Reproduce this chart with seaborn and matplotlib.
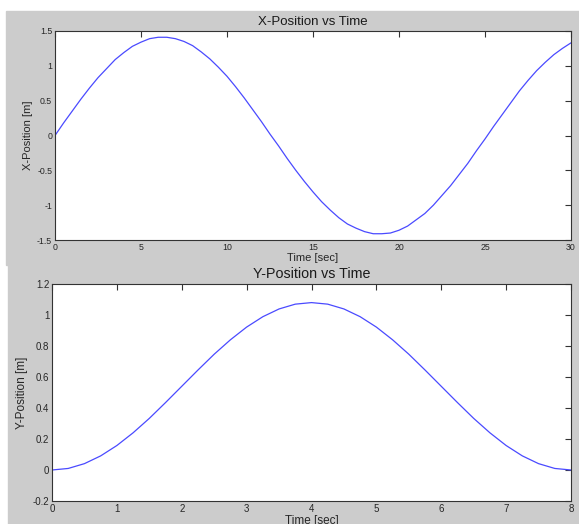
import seaborn as sns
import matplotlib.pyplot as plt
import matplotlib.patches as mpatches
import pandas as pd

t_x = [i * 0.5 for i in range(61)]
x_pos = [0.00, 0.18, 0.35, 0.52, 0.68, 0.83, 0.96, 1.09, 1.19, 1.28,
         1.34, 1.39, 1.41, 1.41, 1.39, 1.35, 1.29, 1.20, 1.10, 0.98,
         0.85, 0.70, 0.54, 0.37, 0.20, 0.02, -0.15, -0.33, -0.50, -0.66,
         -0.81, -0.95, -1.07, -1.18, -1.27, -1.33, -1.38, -1.41, -1.41, -1.40,
         -1.36, -1.30, -1.21, -1.12, -1.00, -0.86, -0.72, -0.56, -0.40, -0.22,
         -0.05, 0.13, 0.30, 0.47, 0.64, 0.79, 0.93, 1.05, 1.16, 1.25, 1.33]

# Y position, sampled every 0.25 s
t_y = [i * 0.25 for i in range(33)]
y_pos = [0.000, 0.010, 0.041, 0.091, 0.158, 0.240, 0.333, 0.435, 0.540,
         0.645, 0.747, 0.840, 0.922, 0.989, 1.039, 1.070, 1.080,
         1.070, 1.039, 0.989, 0.922, 0.840, 0.747, 0.645, 0.540,
         0.435, 0.333, 0.240, 0.158, 0.091, 0.041, 0.010, 0.000]

x_ticks = [0, 5, 10, 15, 20, 25, 30]
x_yticks = [-1.5, -1, -0.5, 0, 0.5, 1, 1.5]
x_yticklabels = ["-1.5", "-1", "-0.5", "0", "0.5", "1", "1.5"]
y_ticks = [0, 1, 2, 3, 4, 5, 6, 7, 8]
y_yticks = [-0.2, 0, 0.2, 0.4, 0.6, 0.8, 1.0, 1.2]
y_yticklabels = ["-0.2", "0", "0.2", "0.4", "0.6", "0.8", "1", "1.2"]

sns.set_style("white")
plt.rcParams['font.family'] = ['Liberation Sans', 'DejaVu Sans']

W, H = 579, 524
fig = plt.figure(figsize=(W / 100, H / 100), dpi=100)
fig.patch.set_facecolor("white")
gray = "#cccccc"
fig.patches.append(mpatches.Rectangle((6 / W, 1 - 265 / H), 1, (265 - 11) / H,
                                      transform=fig.transFigure, color=gray, zorder=-5))
fig.patches.append(mpatches.Rectangle((8 / W, 0), 1, 1 - 265 / H,
                                      transform=fig.transFigure, color=gray, zorder=-5))

line_color = "#4a4aff"
text_color = "#262626"

ax1 = fig.add_axes([55 / W, 1 - 240 / H, (571 - 55) / W, (240 - 31) / H])
ax2 = fig.add_axes([52 / W, 1 - 501 / H, (571 - 52) / W, (501 - 284) / H])

df_x = pd.DataFrame({"t": t_x, "x": x_pos})
df_y = pd.DataFrame({"t": t_y, "y": y_pos})
sns.lineplot(data=df_x, x="t", y="x", ax=ax1, color=line_color, linewidth=0.9)
sns.lineplot(data=df_y, x="t", y="y", ax=ax2, color=line_color, linewidth=0.9)


def style(ax, xlim, ylim, xt, yt, ytl, tick_fs, title, ylabel, title_fs, lab_fs):
    ax.set_facecolor("white")
    ax.set_xlim(*xlim)
    ax.set_ylim(*ylim)
    ax.set_xticks(xt)
    ax.set_xticklabels([str(v) for v in xt])
    ax.set_yticks(yt)
    ax.set_yticklabels(ytl)
    ax.tick_params(direction="in", length=4, width=0.8, top=True, right=True,
                   labelsize=tick_fs, labelcolor=text_color, color="#333333", pad=2)
    for s in ax.spines.values():
        s.set_visible(True)
        s.set_color("#333333")
        s.set_linewidth(0.8)
    ax.set_title(title, fontsize=title_fs, color="#1a1a1a", pad=4)
    ax.set_xlabel("Time [sec]", fontsize=lab_fs, color=text_color, labelpad=1)
    ax.set_ylabel(ylabel, fontsize=lab_fs, color=text_color, labelpad=3)


style(ax1, (0, 30), (-1.5, 1.5), x_ticks, x_yticks, x_yticklabels, 6.3,
      "X-Position vs Time", "X-Position [m]", 9.5, 8)
style(ax2, (0, 8), (-0.2, 1.2), y_ticks, y_yticks, y_yticklabels, 7,
      "Y-Position vs Time", "Y-Position [m]", 10.3, 8.5)

fig.savefig("out.png", dpi=100)
